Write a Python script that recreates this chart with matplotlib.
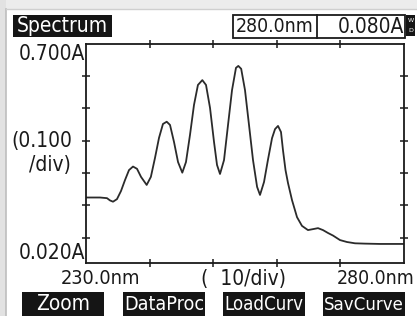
import matplotlib
matplotlib.use("Agg")
import matplotlib.pyplot as plt
from matplotlib.patches import Rectangle
from matplotlib import font_manager as fm

# ---------------- data ----------------
wavelength_nm = [230.0, 232.2, 233.3, 233.77, 234.25, 234.87, 235.5, 236.13, 236.76, 237.39,
                 238.02, 238.65, 239.54, 240.2, 240.85, 241.48, 242.1, 242.69, 243.21, 243.84,
                 244.47, 245.14, 245.72, 246.35, 246.98, 247.6, 248.29, 248.87, 249.5, 250.13,
                 250.6, 251.07, 251.7, 252.33, 252.96, 253.58, 253.95, 254.4, 255.0, 255.63,
                 256.26, 256.9, 257.36, 257.99, 258.6, 259.25, 259.72, 260.19, 260.66, 260.97,
                 261.37, 261.76, 262.39, 263.18, 263.96, 264.9, 265.7, 266.48, 267.26, 268.05,
                 268.84, 269.94, 271.04, 272.3, 273.87, 276.23, 280.0]
absorbance = [0.224, 0.224, 0.222, 0.215, 0.211, 0.219, 0.244, 0.278, 0.309, 0.320,
              0.313, 0.288, 0.263, 0.288, 0.347, 0.409, 0.452, 0.459, 0.449, 0.396,
              0.334, 0.301, 0.334, 0.418, 0.511, 0.573, 0.588, 0.573, 0.502, 0.396,
              0.325, 0.297, 0.340, 0.449, 0.557, 0.626, 0.632, 0.623, 0.557, 0.449,
              0.340, 0.257, 0.232, 0.272, 0.340, 0.408, 0.436, 0.446, 0.427, 0.371,
              0.309, 0.269, 0.216, 0.163, 0.136, 0.123, 0.126, 0.129, 0.123, 0.114,
              0.106, 0.092, 0.086, 0.082, 0.081, 0.080, 0.080]

x_min, x_max = 230.0, 280.0
y_min, y_max = 0.020, 0.700
x_ticks = [240, 250, 260, 270]
y_ticks = [0.1, 0.2, 0.3, 0.4, 0.5, 0.6]

title_text = "Spectrum"
cursor_wl = "280.0nm"
cursor_abs = "0.080A"
y_top_label = "0.700A"
y_bottom_label = "0.020A"
y_div_label = ["(0.100", "/div)"]
x_left_label = "230.0nm"
x_div_label = "(  10/div)"
x_right_label = "280.0nm"
buttons = ["Zoom", "DataProc", "LoadCurv", "SavCurve"]

# ---------------- font ----------------
names = {f.name for f in fm.fontManager.ttflist}
STRETCH = "normal"
if "Liberation Sans Narrow" in names:
    FONT = "Liberation Sans Narrow"
else:
    FONT = "DejaVu Sans"
    if any(f.name == "DejaVu Sans" and f.stretch == "condensed" for f in fm.fontManager.ttflist):
        STRETCH = "condensed"
plt.rcParams["font.family"] = [FONT, "DejaVu Sans"]
FS = 15.0
INK = "#1a1a1a"

W, H = 417, 316
fig = plt.figure(figsize=(W / 100, H / 100), dpi=100)
fig.patch.set_facecolor("white")
renderer = fig.canvas.get_renderer()

ov = fig.add_axes([0, 0, 1, 1])
ov.set_xlim(0, W)
ov.set_ylim(H, 0)
ov.axis("off")


def put_text(x, y, s, max_w, color=INK, ha="center", va="center"):
    t = ov.text(x, y, s, fontsize=FS, ha=ha, va=va, color=color, fontstretch=STRETCH)
    w = t.get_window_extent(renderer).width
    if w > max_w:
        t.set_fontsize(FS * max_w / w)
    return t


# screen border
ov.add_patch(Rectangle((0, 0), 6, H, facecolor="#e2e2e2", edgecolor="none"))
ov.add_patch(Rectangle((6, 0), W - 6, 9, facecolor="#ececec", edgecolor="none"))
ov.plot([6.5, 6.5], [9, H], color="#bdbdbd", lw=1.2)
ov.plot([6.5, W], [9, 9], color="#cfcfcf", lw=1.0)

# title box
ov.add_patch(Rectangle((13, 15), 99, 22, facecolor="#151515", edgecolor="none"))
put_text(62.5, 26.5, title_text, 92, color="white")

# cursor box
ov.add_patch(Rectangle((233, 15), 172, 23, facecolor="white", edgecolor=INK, lw=1.3))
ov.plot([317, 317], [15, 38], color=INK, lw=1.3)
put_text(314, 27, cursor_wl, 78, ha="right")
put_text(404, 27, cursor_abs, 82, ha="right")
ov.add_patch(Rectangle((406, 15), 9, 21, facecolor="#151515", edgecolor="none"))
ov.text(410.5, 20.5, "W", fontsize=4.5, ha="center", va="center", color="white", family="DejaVu Sans")
ov.text(410.5, 30.5, "D", fontsize=4.5, ha="center", va="center", color="white", family="DejaVu Sans")

# buttons
btn_x = [22, 123, 223, 323]
for bx, label in zip(btn_x, buttons):
    ov.add_patch(Rectangle((bx, 291.5), 82, 25, facecolor="#151515", edgecolor="none"))
    put_text(bx + 41, 304.5, label, 80, color="white")

# ---------------- main plot ----------------
L, R, T, B = 86, 404, 44, 263.3
ax = fig.add_axes([L / W, (H - B) / H, (R - L) / W, (B - T) / H])
ax.plot(wavelength_nm, absorbance, color="#2b2b2b", lw=1.3)
ax.set_xlim(x_min, x_max)
ax.set_ylim(y_min, y_max)
ax.set_xticks(x_ticks)
ax.set_yticks(y_ticks)
ax.tick_params(direction="inout", length=5.5, width=1.1, color=INK,
               top=True, right=True, labelbottom=False, labelleft=False)
for s in ax.spines.values():
    s.set_linewidth(1.3)
    s.set_color(INK)
ax.set_facecolor("none")

# axis labels
put_text(85, 44.5, y_top_label, 72, ha="right", va="top")
put_text(85, 263, y_bottom_label, 72, ha="right", va="bottom")
put_text(72, 141.5, y_div_label[0], 62, ha="right")
put_text(71, 165, y_div_label[1], 55, ha="right")
put_text(101, 279, x_left_label, 80)
put_text(243.5, 279, x_div_label, 100)
put_text(376, 279, x_right_label, 78)

fig.savefig("out.png", dpi=100)
